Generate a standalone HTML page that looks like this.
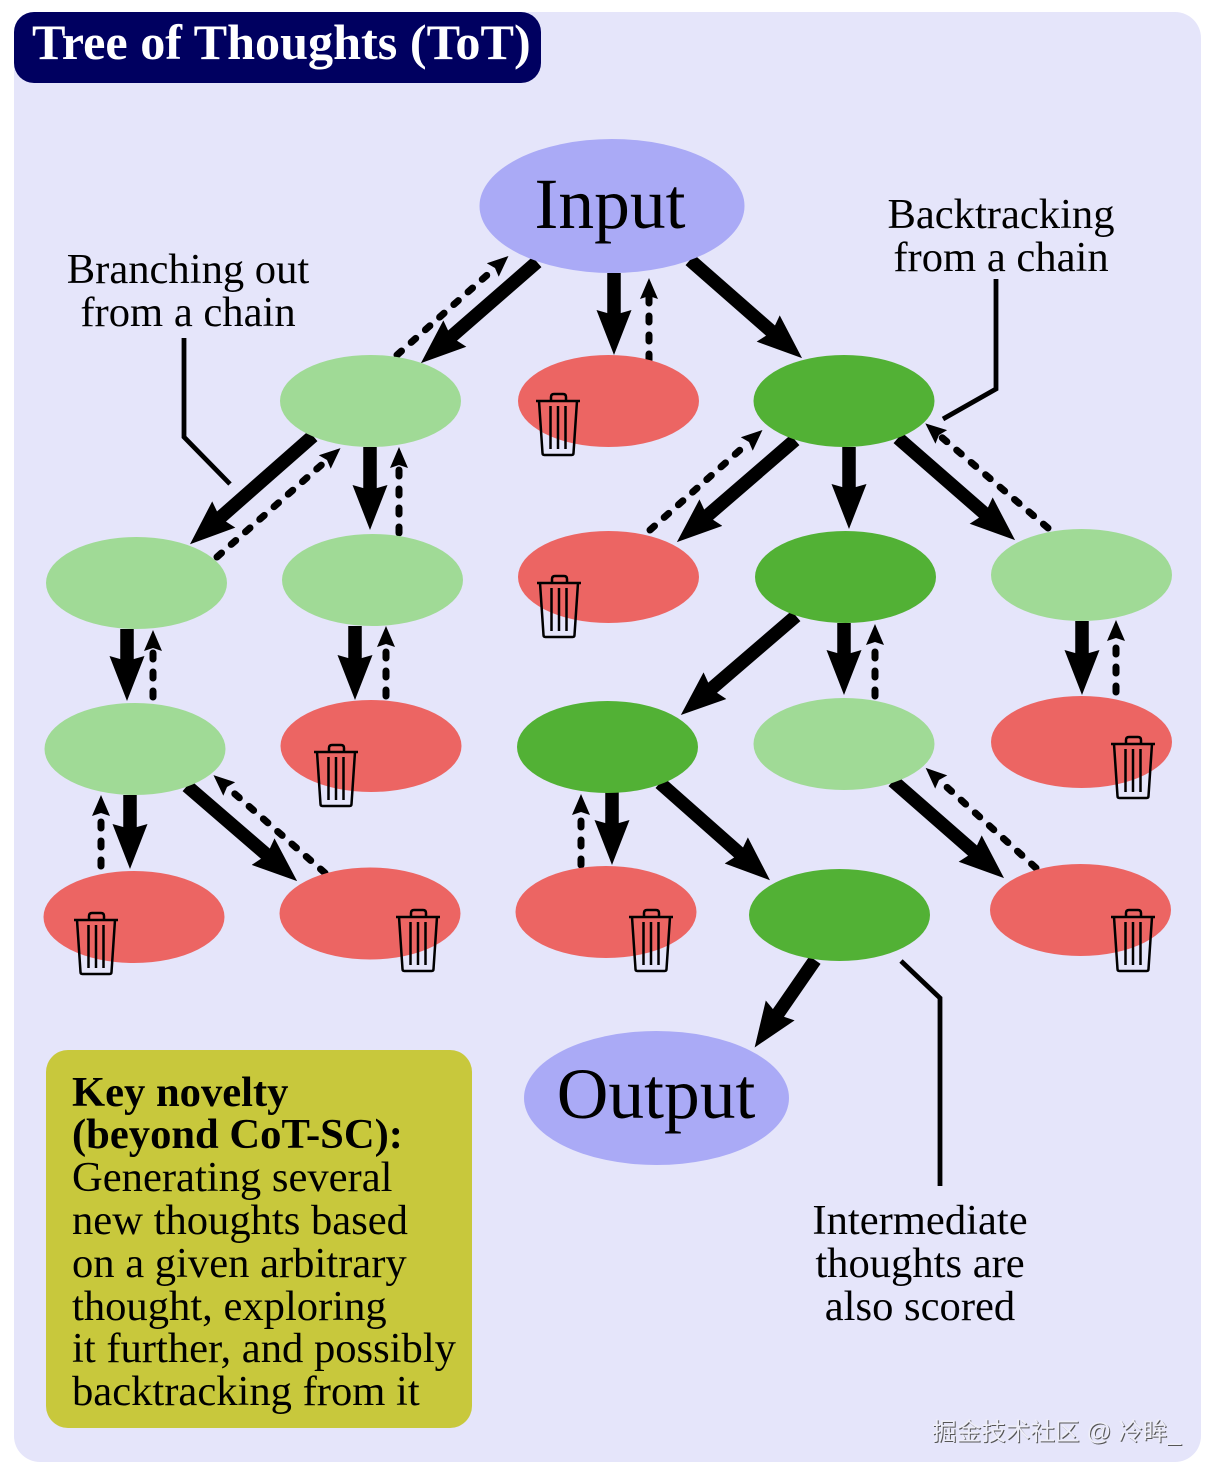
<!DOCTYPE html>
<html><head><meta charset="utf-8"><style>
html,body{margin:0;padding:0;background:#fff}
svg{display:block}
text{font-family:"Liberation Serif","Noto Serif CJK SC",serif}
.l{font-size:42.6px;fill:#000}
.m{text-anchor:middle}
.s line{stroke:#000;stroke-width:13.5;marker-end:url(#hs)}
.d line{stroke:#000;stroke-width:7;stroke-dasharray:6 13;stroke-linecap:round;marker-end:url(#hd)}
.c polyline{fill:none;stroke:#000;stroke-width:4.8}
.lg{fill:#a0da96}.dg{fill:#52b135}.rd{fill:#ec6563}.bl{fill:#aaaaf6}
</style></head><body>
<svg width="1218" height="1482" viewBox="0 0 1218 1482" xmlns="http://www.w3.org/2000/svg">
<defs>
<marker id="hs" markerUnits="userSpaceOnUse" markerWidth="50" markerHeight="40" refX="25" refY="20" orient="auto" viewBox="0 0 50 40">
<path d="M45 20L0 2.5L5 20L0 37.5Z" fill="#000"/></marker>
<marker id="hd" markerUnits="userSpaceOnUse" markerWidth="26" markerHeight="22" refX="3" refY="11" orient="auto" viewBox="0 0 26 22">
<path d="M21 11L0 2L3 11L0 20Z" fill="#000"/></marker>
<g id="t" fill="none" stroke="#000" stroke-width="2.5" stroke-linejoin="round">
<path d="M0 8H44"/><path d="M15 8V4Q15 1 18 1H27Q30 1 30 4V8"/>
<path d="M3 8L6.5 60Q6.5 62 8.5 62H35.500Q37.500 62 37.500 60L41 8"/>
<path d="M14.500 13V56M22 13V56M29.500 13V56"/>
</g>
</defs>
<rect x="14" y="12" width="1187" height="1450" rx="26" fill="#e5e5fa"/>
<rect x="14" y="12" width="527" height="71" rx="20" fill="#000060"/>
<text x="32" y="59" font-size="50.200" font-weight="bold" fill="#fff">Tree of Thoughts (ToT)</text>

<g class="s">
<line x1="537" y1="262" x2="436" y2="350"/>
<line x1="614" y1="273" x2="614" y2="335"/>
<line x1="690" y1="260" x2="787" y2="345"/>
<line x1="313" y1="436" x2="205" y2="531"/>
<line x1="370" y1="447" x2="370" y2="510"/>
<line x1="795" y1="440" x2="692" y2="529"/>
<line x1="849" y1="447" x2="849" y2="509"/>
<line x1="898" y1="438" x2="1000" y2="527"/>
<line x1="127" y1="629" x2="127" y2="681"/>
<line x1="355" y1="626" x2="355" y2="680"/>
<line x1="796" y1="616" x2="696" y2="702"/>
<line x1="844" y1="623" x2="844" y2="675"/>
<line x1="1082" y1="621" x2="1082" y2="675"/>
<line x1="130" y1="795" x2="130" y2="849"/>
<line x1="187" y1="786" x2="282" y2="868"/>
<line x1="612" y1="792" x2="612" y2="845"/>
<line x1="660" y1="783" x2="755" y2="867"/>
<line x1="893" y1="781" x2="989" y2="865"/>
<line x1="815" y1="960" x2="766" y2="1031"/>
</g>
<g class="d">
<line x1="397" y1="355" x2="495" y2="268"/>
<line x1="649" y1="360" x2="649" y2="296"/>
<line x1="217" y1="557" x2="327" y2="460"/>
<line x1="399" y1="533" x2="399" y2="465"/>
<line x1="650" y1="530" x2="749" y2="442"/>
<line x1="1048" y1="528" x2="939" y2="435"/>
<line x1="153" y1="697" x2="153" y2="648"/>
<line x1="386" y1="696" x2="386" y2="644"/>
<line x1="875" y1="696" x2="875" y2="642"/>
<line x1="1116" y1="692" x2="1116" y2="638"/>
<line x1="101" y1="866" x2="101" y2="813"/>
<line x1="325" y1="873" x2="227" y2="787"/>
<line x1="581" y1="865" x2="581" y2="812"/>
<line x1="1036" y1="868" x2="939" y2="780"/>
</g>
<g class="c">
<polyline points="184,338 184,437 230,484"/>
<polyline points="996,279 996,389 943,419"/>
<polyline points="901,961 940,998 940,1186"/>
</g>

<ellipse cx="612" cy="206" rx="132.500" ry="67" class="bl"/>
<ellipse cx="656.500" cy="1098" rx="132.500" ry="67" class="bl"/>
<ellipse cx="370.500" cy="401" rx="90.500" ry="46" class="lg"/>
<ellipse cx="608.500" cy="401" rx="90.500" ry="46" class="rd"/>
<ellipse cx="844" cy="401" rx="90.500" ry="46" class="dg"/>
<ellipse cx="136.500" cy="583" rx="90.500" ry="46" class="lg"/>
<ellipse cx="372.500" cy="580" rx="90.500" ry="46" class="lg"/>
<ellipse cx="608.500" cy="577" rx="90.500" ry="46" class="rd"/>
<ellipse cx="845.500" cy="577" rx="90.500" ry="46" class="dg"/>
<ellipse cx="1081.500" cy="575" rx="90.500" ry="46" class="lg"/>
<ellipse cx="135" cy="749" rx="90.500" ry="46" class="lg"/>
<ellipse cx="371" cy="746" rx="90.500" ry="46" class="rd"/>
<ellipse cx="607.500" cy="747" rx="90.500" ry="46" class="dg"/>
<ellipse cx="844" cy="744" rx="90.500" ry="46" class="lg"/>
<ellipse cx="1081.500" cy="742" rx="90.500" ry="46" class="rd"/>
<ellipse cx="134" cy="917" rx="90.500" ry="46" class="rd"/>
<ellipse cx="370" cy="913.500" rx="90.500" ry="46" class="rd"/>
<ellipse cx="606" cy="912" rx="90.500" ry="46" class="rd"/>
<ellipse cx="839.500" cy="915" rx="90.500" ry="46" class="dg"/>
<ellipse cx="1080.500" cy="910" rx="90.500" ry="46" class="rd"/>

<use href="#t" x="536" y="393"/>
<use href="#t" x="537" y="575"/>
<use href="#t" x="314" y="744"/>
<use href="#t" x="1111" y="736"/>
<use href="#t" x="74" y="912"/>
<use href="#t" x="396" y="909"/>
<use href="#t" x="629" y="909"/>
<use href="#t" x="1111" y="909"/>

<text x="610" y="228" font-size="71.500" class="m">Input</text>
<text x="656" y="1118" font-size="71.500" class="m">Output</text>
<text x="188" y="283" class="l m">Branching out</text>
<text x="188" y="326" class="l m">from a chain</text>
<text x="1001" y="228" class="l m">Backtracking</text>
<text x="1001" y="271" class="l m">from a chain</text>
<text x="920" y="1234" class="l m">Intermediate</text>
<text x="920" y="1277" class="l m">thoughts are</text>
<text x="920" y="1320" class="l m">also scored</text>

<rect x="46" y="1050" width="426" height="378" rx="22" fill="#c8c83c"/>
<text x="72" y="1106" class="l" font-weight="bold">Key novelty</text>
<text x="72" y="1148" class="l" font-weight="bold">(beyond CoT-SC):</text>
<text x="72" y="1191" class="l">Generating several</text>
<text x="72" y="1234" class="l">new thoughts based</text>
<text x="72" y="1277" class="l">on a given arbitrary</text>
<text x="72" y="1320" class="l">thought, exploring</text>
<text x="72" y="1362" class="l">it further, and possibly</text>
<text x="72" y="1405" class="l">backtracking from it</text>

<text x="933" y="1441" font-size="24.600" fill="#555" style='font-family:"Liberation Sans","Noto Sans CJK SC",sans-serif'>掘金技术社区 @ 冷眸_</text>
<text x="932" y="1440" font-size="24.600" fill="#eeeef8" style='font-family:"Liberation Sans","Noto Sans CJK SC",sans-serif'>掘金技术社区 @ 冷眸_</text>
</svg>
</body></html>
